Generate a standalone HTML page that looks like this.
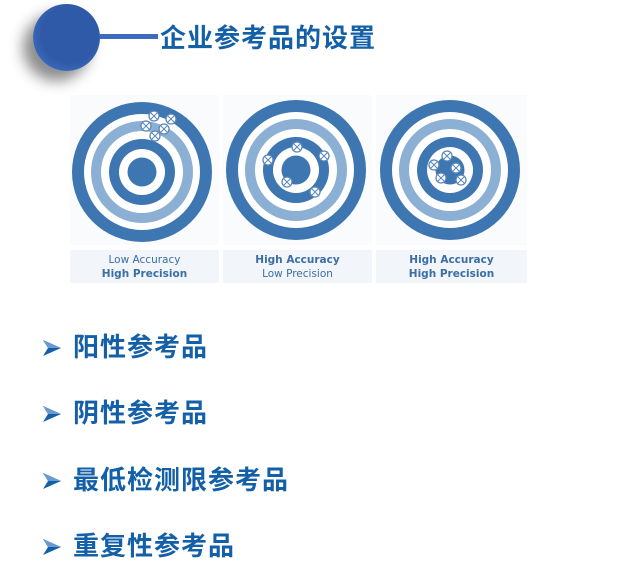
<!DOCTYPE html>
<html><head><meta charset="utf-8"><style>
body{margin:0;width:629px;height:579px;background:#fff;position:relative;overflow:hidden;font-family:"Liberation Sans","Noto Sans CJK SC",sans-serif}
.t{position:absolute;color:#1460a8;font-weight:bold;white-space:nowrap;line-height:1}
.b{position:absolute;left:42px;font-size:26px;color:#1460a8;font-weight:bold;line-height:1}
.b svg{position:absolute;left:0;top:5px}
.b i{font-style:normal;position:absolute;left:31px;top:0;white-space:nowrap;letter-spacing:1px}
.lab{position:absolute;top:250px;height:33px;background:#f2f5f9;font-size:10.5px;font-family:"DejaVu Sans",sans-serif;color:#3a6ea5;text-align:center;line-height:14px;padding-top:3px;box-sizing:border-box}
</style></head><body>
<div style="position:absolute;left:33px;top:4px;width:67px;height:67px;border-radius:50%;background:radial-gradient(circle at 55% 45%,#2f5aa8 55%,#4a7cd0 100%);box-shadow:-10px 10px 14px rgba(0,0,0,0.45)"></div>
<div style="position:absolute;left:100px;top:34px;width:58px;height:5px;background:#3d6bc0"></div>
<div class="t" style="left:160px;top:25px;font-size:26px;letter-spacing:1px">企业参考品的设置</div>
<svg style="position:absolute;left:0;top:0" width="629" height="300">
<rect x="70" y="95" width="149" height="150" fill="#fafbfd"/>
<rect x="223" y="95" width="149" height="150" fill="#fafbfd"/>
<rect x="376" y="95" width="151" height="150" fill="#fafbfd"/>
<defs><g id="tg">
<circle r="70" fill="#3d76b0"/><circle r="58" fill="#fff"/><circle r="51" fill="#8cb0d4"/><circle r="41" fill="#fff"/><circle r="33" fill="#3d76b0"/><circle r="23" fill="#fff"/><circle r="14.5" fill="#3d76b0"/>
</g>
<g id="h"><circle r="5" fill="#fff" stroke="#5a86b8" stroke-width="1.3"/><path d="M-3-3L3 3M3-3L-3 3" stroke="#5a86b8" stroke-width="1"/></g></defs>
<use href="#tg" x="142" y="172"/><use href="#tg" x="296" y="170"/><use href="#tg" x="450" y="170"/>
<use href="#h" x="154" y="116"/><use href="#h" x="171" y="119"/><use href="#h" x="146" y="126"/><use href="#h" x="164" y="129"/><use href="#h" x="155" y="136"/>
<use href="#h" x="297" y="147"/><use href="#h" x="268" y="160"/><use href="#h" x="324" y="156"/><use href="#h" x="287" y="182"/><use href="#h" x="315" y="192"/>
<use href="#h" x="447" y="156"/><use href="#h" x="434" y="165"/><use href="#h" x="456" y="168"/><use href="#h" x="441" y="178"/><use href="#h" x="461" y="180"/>
</svg>
<div class="lab" style="left:70px;width:149px">Low Accuracy<br><b>High Precision</b></div>
<div class="lab" style="left:223px;width:149px"><b>High Accuracy</b><br>Low Precision</div>
<div class="lab" style="left:376px;width:151px"><b>High Accuracy</b><br><b>High Precision</b></div>
<div class="b" style="top:334px"><svg width="20" height="18" viewBox="0 0 20 18"><path d="M1 1L19 9L1 17L6 9Z" fill="#1460a8"/><path d="M1 1L19 9L6 9Z" fill="#6a9ad0"/></svg><i>阳性参考品</i></div>
<div class="b" style="top:400px"><svg width="20" height="18" viewBox="0 0 20 18"><path d="M1 1L19 9L1 17L6 9Z" fill="#1460a8"/><path d="M1 1L19 9L6 9Z" fill="#6a9ad0"/></svg><i>阴性参考品</i></div>
<div class="b" style="top:467px"><svg width="20" height="18" viewBox="0 0 20 18"><path d="M1 1L19 9L1 17L6 9Z" fill="#1460a8"/><path d="M1 1L19 9L6 9Z" fill="#6a9ad0"/></svg><i>最低检测限参考品</i></div>
<div class="b" style="top:533px"><svg width="20" height="18" viewBox="0 0 20 18"><path d="M1 1L19 9L1 17L6 9Z" fill="#1460a8"/><path d="M1 1L19 9L6 9Z" fill="#6a9ad0"/></svg><i>重复性参考品</i></div>
</body></html>
